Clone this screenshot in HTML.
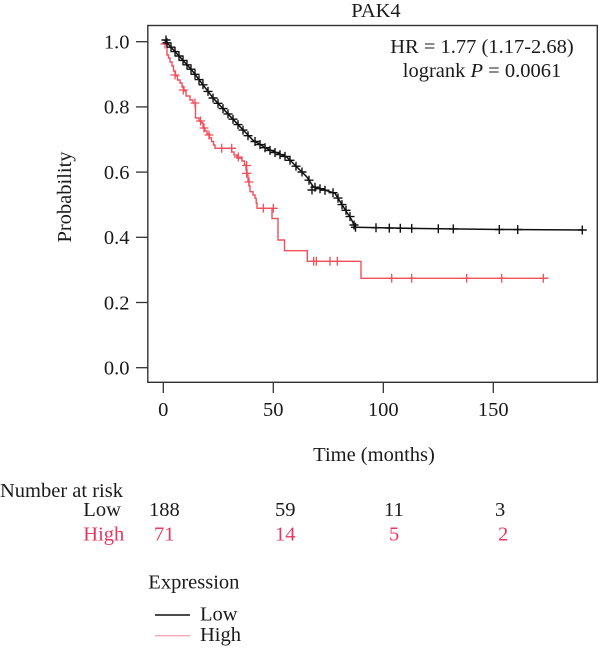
<!DOCTYPE html>
<html>
<head>
<meta charset="utf-8">
<style>
  html, body { margin: 0; padding: 0; background: #fff; }
  body { width: 600px; height: 649px; overflow: hidden; }
  svg { display: block; }
  text { font-family: "Liberation Serif", "DejaVu Serif", serif; font-size: 20.5px; fill: #1a1a1a; }
  .red { fill: #e8375f; }
</style>
</head>
<body>
<svg width="600" height="649" viewBox="0 0 600 649" xmlns="http://www.w3.org/2000/svg">
  <text x="376" y="17" text-anchor="middle">PAK4</text>

  <rect x="147.8" y="25.5" width="449.5" height="356.8" fill="none" stroke="#333" stroke-width="1.4"/>

  <g stroke="#333" stroke-width="1.3">
    <line x1="136" y1="41.7" x2="148" y2="41.7"/>
    <line x1="136" y1="106.9" x2="148" y2="106.9"/>
    <line x1="136" y1="172.1" x2="148" y2="172.1"/>
    <line x1="136" y1="237.3" x2="148" y2="237.3"/>
    <line x1="136" y1="302.5" x2="148" y2="302.5"/>
    <line x1="136" y1="367.7" x2="148" y2="367.7"/>
    <line x1="163.3" y1="382" x2="163.3" y2="393"/>
    <line x1="273.3" y1="382" x2="273.3" y2="393"/>
    <line x1="383.3" y1="382" x2="383.3" y2="393"/>
    <line x1="493.3" y1="382" x2="493.3" y2="393"/>
  </g>
  <g text-anchor="end">
    <text x="129.5" y="48.5">1.0</text>
    <text x="129.5" y="113.7">0.8</text>
    <text x="129.5" y="178.9">0.6</text>
    <text x="129.5" y="244.1">0.4</text>
    <text x="129.5" y="309.3">0.2</text>
    <text x="129.5" y="374.5">0.0</text>
  </g>
  <text transform="translate(71,197) rotate(-90)" text-anchor="middle">Probability</text>
  <g text-anchor="middle">
    <text x="163.3" y="416">0</text>
    <text x="273.3" y="416">50</text>
    <text x="383.3" y="416">100</text>
    <text x="493.3" y="416">150</text>
  </g>
  <text x="374" y="461" text-anchor="middle">Time (months)</text>

  <text x="482" y="53" text-anchor="middle">HR = 1.77 (1.17-2.68)</text>
  <text x="482" y="77" text-anchor="middle">logrank <tspan font-style="italic">P</tspan> = 0.0061</text>

  <path fill="none" stroke="#f0505c" stroke-width="1.4" d="M164.5,43 H167 V55 H168.5 V58 H170 V62 H172 V66 H173.5 V71 H175.5 V76 H177.5 V80 H180 V83 H182 V87 H184 V91 H186 V96 H190 V100 H193 V103 H195.5 V118 H199 V121 H201.5 V123 H203 V128 H205 V131 H207 V134 H209.5 V138 H211.5 V141.5 H213.5 V145 H215 V148.3 H231.7 V152 H234 V155 H237 V158.3 H242 V161 H244.5 V165 H246 V170 H247 V175 H248 V181 H249 V186 H250 V191.7 H253 V195 H255 V198.3 H256.2 V203 H257 V208.3 H272 V218.5 H278 V240 H284.5 V250.7 H307.3 V261.3 H361 V278.3 H548.3"/>
  <path fill="none" stroke="#f0505c" stroke-width="1.3" d="M160.5,44h9M165,39.5v9M170.5,75h9M175,70.5v9M178.8,90h9M183.3,85.5v9M190.5,103h9M195,98.5v9M196,121h9M200.5,116.5v9M199.5,128h9M204,123.5v9M204.5,135h9M209,130.5v9M217.2,148.3h9M221.7,143.8v9M227.2,148.3h9M231.7,143.8v9M233.8,157h9M238.3,152.5v9M242.2,165.5h9M246.7,161v9M242.2,173.3h9M246.7,168.8v9M244.5,182h9M249,177.5v9M258.8,208.3h9M263.3,203.8v9M268.8,208.3h9M273.3,203.8v9M309.2,261.3h9M313.7,256.8v9M311.8,261.3h9M316.3,256.8v9M325.5,261.3h9M330,256.8v9M332.8,261.3h9M337.3,256.8v9M387.2,278.3h9M391.7,273.8v9M407.2,278.3h9M411.7,273.8v9M462.2,278.3h9M466.7,273.8v9M497.2,278.3h9M501.7,273.8v9M538.8,278.3h9M543.3,273.8v9"/>

  <path fill="none" stroke="#111" stroke-width="1.5" d="M164.5,40 L191.7,70 L213.3,98.3 L240,126.7 L253.3,140.5 L266.7,148.5 L286.7,157 L306.7,176.7 L313.3,186.7 L330,191.7 L335,193.3 L343.3,206.7 L351.7,220 L355,227.3 L420,228.5 L500,229.5 L583,230"/>
  <path fill="none" stroke="#111" stroke-width="1.4" d="M161.5,40h9M166,35.5v9M162.5,42.8h9M167,38.3v9M166.5,47.2h9M171,42.7v9M170.5,51.6h9M175,47.1v9M174.5,56h9M179,51.5v9M178.5,60.4h9M183,55.9v9M182.5,64.8h9M187,60.3v9M186.5,69.2h9M191,64.7v9M190.5,74.3h9M195,69.8v9M194.5,79.6h9M199,75.1v9M198.5,84.8h9M203,80.3v9M203.5,91.4h9M208,86.9v9M208.5,98h9M213,93.5v9M213.5,103.3h9M218,98.8v9M218.5,108.6h9M223,104.1v9M223.5,113.9h9M228,109.4v9M228.5,119.2h9M233,114.7v9M233.5,124.6h9M238,120.1v9M238.5,130.1h9M243,125.6v9M243.5,135.7h9M248,131.2v9M250.5,141.5h9M255,137v9M255.5,144.6h9M260,140.1v9M260.5,147.7h9M265,143.2v9M265.5,150.4h9M270,145.9v9M270.5,152.5h9M275,148v9M275.5,154.6h9M280,150.1v9M280.5,156.4h9M285,151.9v9M285.5,160.3h9M290,155.8v9M291.5,166.2h9M296,161.7v9M297.5,172h9M302,167.5v9M304.5,180.2h9M309,175.7v9M307.5,190h9M312,185.5v9M310.5,187.2h9M315,182.7v9M315.5,188.7h9M320,184.2v9M320.5,190.2h9M325,185.7v9M328.5,192.7h9M333,188.2v9M333.5,198.1h9M338,193.6v9M337.5,204.6h9M342,200.1v9M341.5,210.3h9M346,205.8v9M345.5,216.6h9M350,212.1v9M349.5,225h9M354,220.5v9M351,227.3h9M355.5,222.8v9M371.5,227.8h9M376,223.3v9M384.8,228.1h9M389.3,223.6v9M395.8,228.3h9M400.3,223.8v9M407.2,228.4h9M411.7,223.9v9M433.8,228.7h9M438.3,224.2v9M448.8,228.9h9M453.3,224.4v9M494.8,229.5h9M499.3,225v9M513.2,229.6h9M517.7,225.1v9M577.8,230h9M582.3,225.5v9"/>

  <text x="0" y="497">Number at risk</text>
  <text x="83.3" y="516">Low</text>
  <text x="83.3" y="540.7" class="red">High</text>
  <text x="149" y="516">188</text>
  <text x="275" y="516">59</text>
  <text x="384" y="516">11</text>
  <text x="495" y="516">3</text>
  <text x="154" y="540.7" class="red">71</text>
  <text x="275" y="540.7" class="red">14</text>
  <text x="389" y="540.7" class="red">5</text>
  <text x="498" y="540.7" class="red">2</text>

  <text x="148.3" y="588.3">Expression</text>
  <line x1="155" y1="615" x2="190" y2="615" stroke="#111" stroke-width="1.4"/>
  <text x="200" y="620.5">Low</text>
  <line x1="155" y1="635.7" x2="190" y2="635.7" stroke="#f6a8b0" stroke-width="1.4"/>
  <text x="200" y="641">High</text>
</svg>
</body>
</html>
